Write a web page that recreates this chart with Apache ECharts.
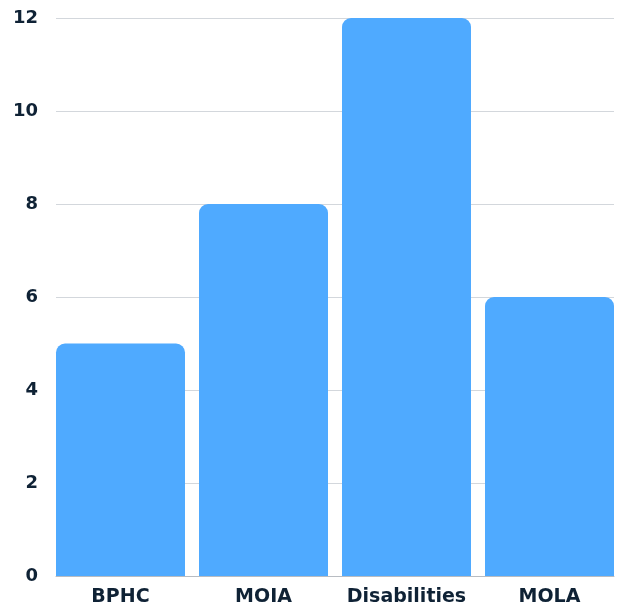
<!DOCTYPE html>
<html>
<head>
<meta charset="utf-8">
<script src="https://cdn.jsdelivr.net/npm/echarts@6/dist/echarts.min.js"></script>
<style>
  html, body { margin: 0; padding: 0; background: #ffffff; }
  #chart { width: 618px; height: 605px; }
</style>
</head>
<body>
<div id="chart"></div>
<script>
// Program counts
const categories = ['BPHC', 'MOIA', 'Disabilities', 'MOLA'];
const counts = [5, 8, 12, 6];
const yTicks = { min: 0, max: 12, interval: 2 };

const textColor = '#0f2235';
const fontFamily = '"DejaVu Sans", Inter, sans-serif';

const chart = echarts.init(document.getElementById('chart'), null, { renderer: 'canvas' });

chart.setOption({
  animation: false,
  backgroundColor: '#ffffff',
  grid: [
    // frame: gridlines, y labels and baseline
    { left: 56, right: 4, top: 18, bottom: 29, containLabel: false, outerBoundsMode: 'none' },
    // bars: slightly wider band so the outer bars sit flush with the frame
    { left: 49, right: -3, top: 18, bottom: 29, containLabel: false, outerBoundsMode: 'none' }
  ],
  xAxis: [
    {
      type: 'category', gridIndex: 0, data: categories,
      axisLine: { show: true, lineStyle: { color: '#b8bcc2', width: 1 } },
      axisTick: { show: false },
      axisLabel: { show: false },
      z: 5
    },
    {
      type: 'category', gridIndex: 1, data: categories,
      axisLine: { show: false },
      axisTick: { show: false },
      axisLabel: {
        show: true, interval: 0, margin: 12, color: textColor,
        fontFamily: fontFamily, fontWeight: 'bold', fontSize: 19
      }
    }
  ],
  yAxis: [
    {
      type: 'value', gridIndex: 0,
      min: yTicks.min, max: yTicks.max, interval: yTicks.interval,
      axisLine: { show: false },
      axisTick: { show: false },
      splitLine: { show: true, lineStyle: { color: '#d3d7dc', width: 1 } },
      axisLabel: {
        margin: 18, color: textColor,
        fontFamily: fontFamily, fontWeight: 'bold', fontSize: 18
      }
    },
    {
      type: 'value', gridIndex: 1,
      min: yTicks.min, max: yTicks.max, interval: yTicks.interval,
      show: false
    }
  ],
  series: [
    {
      type: 'bar',
      xAxisIndex: 1, yAxisIndex: 1,
      data: counts,
      barWidth: 129,
      itemStyle: { color: '#4faaff', borderRadius: [9, 9, 0, 0] },
      z: 2
    }
  ]
});
</script>
</body>
</html>
